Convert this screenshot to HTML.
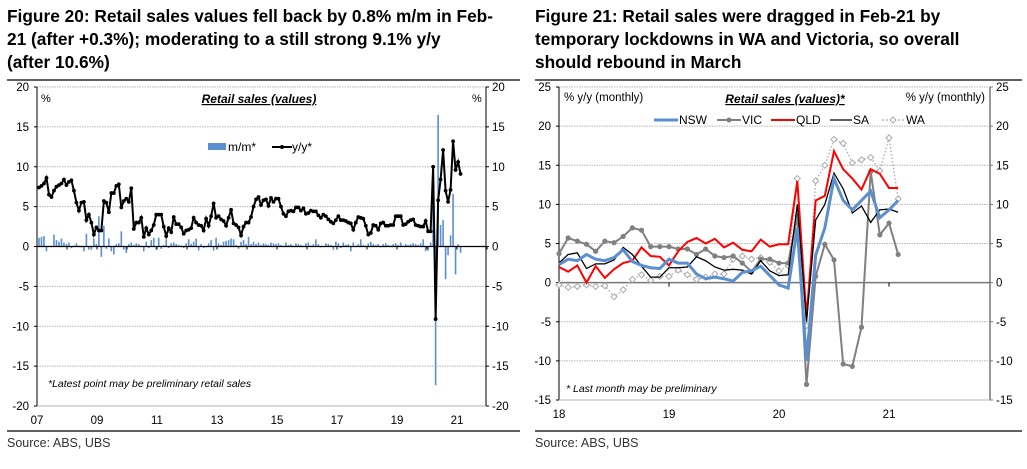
<!DOCTYPE html>
<html><head><meta charset="utf-8"><style>
body{margin:0;background:#fff;}
svg{display:block;font-family:"Liberation Sans Narrow","Liberation Sans",sans-serif;}
.t{font-family:"Liberation Sans",sans-serif;font-weight:bold;font-size:17.3px;fill:#000;}
</style></head><body>
<svg id="s" width="1027" height="469" viewBox="0 0 1027 469">
<g>
<text class="t" x="7" y="22">Figure 20: Retail sales values fell back by 0.8% m/m in Feb-</text>
<text class="t" x="7" y="45">21 (after +0.3%); moderating to a still strong 9.1% y/y</text>
<text class="t" x="7" y="68">(after 10.6%)</text>
</g>
<g>
<text class="t" x="535" y="22">Figure 21: Retail sales were dragged in Feb-21 by</text>
<text class="t" x="535" y="45">temporary lockdowns in WA and Victoria, so overall</text>
<text class="t" x="535" y="68">should rebound in March</text>
</g>
<line x1="7" y1="80" x2="520" y2="80" stroke="#000" stroke-width="1.2"/>
<line x1="535" y1="80" x2="1022" y2="80" stroke="#000" stroke-width="1.2"/>
<line x1="7" y1="431" x2="520" y2="431" stroke="#000" stroke-width="1.2"/>
<line x1="535" y1="431" x2="1022" y2="431" stroke="#000" stroke-width="1.2"/>
<text x="7" y="447" font-size="12.5" fill="#333" font-family="Liberation Sans, sans-serif">Source: ABS, UBS</text>
<text x="535" y="447" font-size="12.5" fill="#333" font-family="Liberation Sans, sans-serif">Source: ABS, UBS</text>
<g id="L"></g>
<g id="R"></g>
</svg>
<script>
// ---- Left chart data (monthly from Jan 2007) ----
const leftYears = ["07","09","11","13","15","17","19","21"];
const leftTicks = [20,15,10,5,0,-5,-10,-15,-20];
const yoy = [
7.4,7.6,7.9,8.6,6.5,6.2,7.0,7.5,7.7,7.9,8.4,7.7,
8.1,8.3,7.0,5.5,4.5,5.5,5.6,3.3,4.0,3.0,1.5,2.4,
2.0,2.0,5.7,5.5,4.3,6.7,6.7,7.6,7.8,4.9,5.7,6.0,
5.6,7.3,2.2,3.0,3.0,3.6,1.2,2.3,1.5,2.0,2.7,4.0,
4.0,4.0,2.5,1.3,2.3,1.8,3.7,2.8,2.8,2.4,1.6,2.0,
2.1,2.3,3.6,3.0,2.7,2.6,2.0,3.5,2.6,3.8,5.4,3.6,
3.8,3.4,3.2,2.6,3.6,4.6,2.9,2.7,2.4,1.4,2.5,3.0,
3.0,3.7,5.0,5.9,6.2,5.2,5.8,5.9,5.1,6.1,5.6,6.0,
6.0,5.0,4.1,3.8,4.4,4.5,4.4,4.9,4.9,4.5,4.8,4.1,
4.2,4.5,4.4,4.4,3.9,3.6,4.0,3.8,3.4,3.1,2.9,3.3,
3.8,3.3,3.3,3.2,3.0,2.9,2.1,3.0,3.7,3.6,3.5,2.6,
1.5,1.7,2.7,2.6,2.1,2.9,3.0,2.6,2.6,2.7,2.7,3.8,
3.8,3.8,2.7,2.8,3.1,3.3,3.4,2.7,2.6,2.5,2.5,3.2,
1.9,1.9,10.0,-9.1,5.8,8.4,12.1,7.0,5.6,7.1,13.2,9.6,
10.6,9.1];
const mom = [
1.1,1.2,1.3,-0.6,0.0,0.1,1.5,0.8,0.6,1.0,0.5,0.3,
0.5,-0.2,0.1,0.4,0.1,-0.1,-0.6,1.6,-0.4,-0.4,1.0,0.3,
3.8,-1.3,2.6,-0.3,1.0,-0.6,-1.0,0.3,0.4,1.9,-0.4,-0.8,
0.3,0.5,0.2,0.4,0.3,0.1,-0.6,0.6,-0.2,0.8,1.1,-0.4,
1.1,-0.3,0.2,0.9,-0.2,0.4,0.5,0.3,0.2,0.1,-0.2,0.4,
0.9,0.3,0.6,1.0,-0.5,0.3,-0.2,-0.1,0.4,0.8,-0.5,1.1,
0.4,0.2,0.6,0.7,0.8,1.0,0.9,0.2,-0.3,0.6,0.8,0.3,
1.2,0.3,0.6,0.3,0.5,0.2,0.4,0.3,0.2,0.5,0.4,0.3,
0.4,0.2,0.1,0.5,0.2,0.3,0.1,0.4,0.3,0.2,0.0,0.4,
0.5,0.1,0.3,0.9,0.3,-0.1,0.0,0.4,0.3,0.2,-0.4,0.6,
0.4,-0.2,0.5,0.2,0.3,-0.6,0.5,0.1,0.3,0.9,0.2,0.1,
0.4,0.6,0.3,0.2,0.3,-0.1,0.3,0.4,0.2,0.1,0.3,0.4,
0.2,0.5,0.1,0.3,0.2,0.3,0.4,0.3,0.2,0.4,0.9,-0.6,
-0.5,0.5,8.2,-17.4,16.5,2.7,3.3,-4.1,-1.1,1.4,6.6,-3.5,
0.3,-0.8];
// ---- Right chart data (monthly from Jan 2018) ----
const rightYears = ["18","19","20","21"];
const rightTicks = [25,20,15,10,5,0,-5,-10,-15];
const nsw = [2.3,3.0,2.8,3.6,3.0,2.8,3.2,4.2,2.7,2.2,1.9,1.8,3.0,2.5,2.5,1.1,0.5,0.7,0.5,0.2,1.3,1.5,2.1,0.9,-0.3,-0.7,7.0,-10.0,3.5,7.0,13.3,10.5,9.3,10.5,11.7,8.3,9.3,10.5];
const vic = [3.7,5.7,5.3,4.9,4.0,5.3,5.1,5.9,7.0,6.7,4.6,4.6,4.6,4.3,4.3,3.6,4.3,3.4,3.2,3.4,2.5,1.4,3.0,3.0,2.5,2.5,8.5,-13.0,0.8,4.9,2.9,-10.4,-10.7,-5.7,14.2,6.1,7.6,3.6];
const qld = [2.0,1.4,2.2,0.0,2.1,0.6,1.7,2.5,2.8,4.5,3.4,3.3,2.2,4.0,5.2,5.7,5.0,5.6,4.5,5.1,4.2,4.0,5.5,4.6,4.9,4.9,13.0,-4.5,10.5,11.1,16.8,14.5,13.3,11.9,14.5,13.9,12.1,12.1];
const sa  = [2.5,3.6,3.8,1.8,2.4,2.4,2.9,4.5,3.6,2.1,0.7,0.7,1.9,1.9,2.0,3.3,2.8,2.0,1.6,1.7,1.6,1.1,2.8,1.5,0.9,1.0,10.0,-5.0,8.0,10.0,14.0,12.0,8.9,9.8,7.7,9.3,9.4,9.0];
const wa  = [-0.3,-0.6,-0.5,-0.3,-0.5,-0.4,-1.8,-0.9,0.4,1.0,0.3,0.8,0.8,1.6,1.0,0.4,0.7,1.1,1.1,3.0,3.4,3.0,3.2,2.6,1.5,2.2,13.3,-5.5,13.0,15.0,18.3,17.8,15.3,15.7,16.0,14.3,18.5,10.7];

const NS="http://www.w3.org/2000/svg";
function mk(parent,tag,attrs,text){const e=document.createElementNS(NS,tag);for(const k in attrs)e.setAttribute(k,attrs[k]);if(text!==undefined)e.textContent=text;parent.appendChild(e);return e;}

// ===== Left chart =====
(function(){
const g=document.getElementById('L');
const x0=37,x1=486,yTop=87,yBot=406;
const ly=v=>yTop+(20-v)*(yBot-yTop)/40;
const lx=i=>x0+2+i*(x1-x0)/180;
leftTicks.forEach(t=>{
  if(t!==0){const gl=mk(g,'line',{x1:x0,x2:x1,y1:ly(t),y2:ly(t),stroke:'#b5b5b5','stroke-dasharray':'1.5,1'});
  
  }
  const a=mk(g,'text',{x:29,y:ly(t)+4,'font-size':11.5,'text-anchor':'end'},String(t));
  
  
  const b=mk(g,'text',{x:492,y:ly(t)+4,'font-size':11.5},String(t));
  
  
  mk(g,'line',{x1:x0-3,x2:x0,y1:ly(t),y2:ly(t),stroke:'#000'});
  mk(g,'line',{x1:x1,x2:x1+3,y1:ly(t),y2:ly(t),stroke:'#000'});
});
mk(g,'line',{x1:x0,x2:x0,y1:yTop,y2:yBot,stroke:'#000'});
mk(g,'line',{x1:x1,x2:x1,y1:yTop,y2:yBot,stroke:'#000'});
mk(g,'line',{x1:x0,x2:x1,y1:yBot,y2:yBot,stroke:'#b5b5b5'});
leftYears.forEach((y,k)=>{
  const t=mk(g,'text',{x:x0+k*60,y:424,'font-size':11.5,'text-anchor':'middle'},y);
  
  
});
mom.forEach((v,i)=>{
  const r=mk(g,'rect',{x:lx(i)-0.8,width:1.6,y:Math.min(ly(v),ly(0)),height:Math.abs(ly(v)-ly(0)),fill:'#5b8fd0'});
  
  
});
mk(g,'line',{x1:x0,x2:x1,y1:ly(0),y2:ly(0),stroke:'#000','stroke-width':1.2});
for(let k=0;k<16;k++){mk(g,'line',{x1:x0+k*30,x2:x0+k*30,y1:ly(0),y2:ly(0)+3,stroke:'#000'});}
const pl=mk(g,'polyline',{points:yoy.map((v,i)=>lx(i)+','+ly(v)).join(' '),fill:'none',stroke:'#000','stroke-width':2});


yoy.forEach((v,i)=>{mk(g,'circle',{cx:lx(i),cy:ly(v),r:1.9,fill:'#000'});});
const tl=mk(g,'text',{x:259,y:103,'font-size':12,'font-weight':'bold','font-style':'italic','text-anchor':'middle','text-decoration':'underline'},'Retail sales (values)');


mk(g,'text',{x:41,y:102,'font-size':11},'%');
mk(g,'text',{x:472,y:102,'font-size':11},'%');
const lg=mk(g,'g',{});


mk(lg,'rect',{x:208,y:143,width:18,height:7,fill:'#5b8fd0'});
mk(lg,'text',{x:228,y:151,'font-size':12},'m/m*');
mk(lg,'line',{x1:272,x2:292,y1:147,y2:147,stroke:'#000','stroke-width':2});
mk(lg,'circle',{cx:282,cy:147,r:2,fill:'#000'});
mk(lg,'text',{x:292,y:151,'font-size':12},'y/y*');
const n=mk(g,'text',{x:48,y:387,'font-size':10.5,'font-style':'italic'},'*Latest point may be preliminary retail sales');


})();

// ===== Right chart =====
(function(){
const g=document.getElementById('R');
const x0=559,x1=990,yTop=87,yBot=400;
const ry=v=>yTop+(25-v)*(yBot-yTop)/40;
const rx=i=>x0+i*110/12;
rightTicks.forEach(t=>{
  if(t!==0){const gl=mk(g,'line',{x1:x0,x2:x1,y1:ry(t),y2:ry(t),stroke:'#b5b5b5','stroke-dasharray':'1.5,1'});
  
  }
  const a=mk(g,'text',{x:551,y:ry(t)+4,'font-size':11.5,'text-anchor':'end'},String(t));
  
  
  const b=mk(g,'text',{x:996,y:ry(t)+4,'font-size':11.5},String(t));
  
  
  mk(g,'line',{x1:x0-3,x2:x0,y1:ry(t),y2:ry(t),stroke:'#000'});
  mk(g,'line',{x1:x1,x2:x1+3,y1:ry(t),y2:ry(t),stroke:'#777'});
});
mk(g,'line',{x1:x0,x2:x0,y1:yTop,y2:yBot,stroke:'#000'});
mk(g,'line',{x1:x1,x2:x1,y1:yTop,y2:yBot,stroke:'#777','stroke-width':1.5});
mk(g,'line',{x1:x0,x2:x1,y1:yBot,y2:yBot,stroke:'#b5b5b5'});
mk(g,'line',{x1:x0,x2:x1,y1:ry(0),y2:ry(0),stroke:'#777','stroke-width':1.5});
rightYears.forEach((y,k)=>{
  mk(g,'line',{x1:x0+k*110,x2:x0+k*110,y1:ry(0),y2:ry(0)+4,stroke:'#000'});
  const t=mk(g,'text',{x:x0+k*110,y:418,'font-size':11.5,'text-anchor':'middle'},y);
  
  
});
const pts=a=>a.map((v,i)=>rx(i)+','+ry(v)).join(' ');
const w=mk(g,'polyline',{points:pts(wa),fill:'none',stroke:'#aaa','stroke-width':1.3,'stroke-dasharray':'1.5,2'});


wa.forEach((v,i)=>{const x=rx(i),y=ry(v);mk(g,'path',{d:`M${x} ${y-3}L${x+3} ${y}L${x} ${y+3}L${x-3} ${y}Z`,fill:'#fff',stroke:'#aaa','stroke-width':1});});
const v1=mk(g,'polyline',{points:pts(vic),fill:'none',stroke:'#808080','stroke-width':2});


vic.forEach((v,i)=>{mk(g,'circle',{cx:rx(i),cy:ry(v),r:2.6,fill:'#808080'});});
const q=mk(g,'polyline',{points:pts(qld),fill:'none',stroke:'#f00','stroke-width':2});


const s=mk(g,'polyline',{points:pts(sa),fill:'none',stroke:'#000','stroke-width':1.3});


const nl=mk(g,'polyline',{points:pts(nsw),fill:'none',stroke:'#5b8fd0','stroke-width':3});


const tl=mk(g,'text',{x:785,y:103,'font-size':12,'font-weight':'bold','font-style':'italic','text-anchor':'middle','text-decoration':'underline'},'Retail sales (values)*');


mk(g,'text',{x:564,y:101,'font-size':11.5},'% y/y (monthly)');
mk(g,'text',{x:985,y:101,'font-size':11.5,'text-anchor':'end'},'% y/y (monthly)');
const lg=mk(g,'g',{});


mk(lg,'line',{x1:654,x2:678,y1:120,y2:120,stroke:'#5b8fd0','stroke-width':3});
mk(lg,'text',{x:679,y:124,'font-size':12},'NSW');
mk(lg,'line',{x1:717,x2:741,y1:120,y2:120,stroke:'#808080','stroke-width':2});
mk(lg,'circle',{cx:729,cy:120,r:2.5,fill:'#808080'});
mk(lg,'text',{x:742,y:124,'font-size':12},'VIC');
mk(lg,'line',{x1:771,x2:795,y1:120,y2:120,stroke:'#f00','stroke-width':2});
mk(lg,'text',{x:796,y:124,'font-size':12},'QLD');
mk(lg,'line',{x1:830,x2:852,y1:120,y2:120,stroke:'#000','stroke-width':1.3});
mk(lg,'text',{x:853,y:124,'font-size':12},'SA');
mk(lg,'line',{x1:882,x2:904,y1:120,y2:120,stroke:'#aaa','stroke-width':1.3,'stroke-dasharray':'2,2'});
mk(lg,'path',{d:'M893 117L896 120L893 123L890 120Z',fill:'#fff',stroke:'#aaa'});
mk(lg,'text',{x:906,y:124,'font-size':12},'WA');
const n=mk(g,'text',{x:566,y:392,'font-size':10.5,'font-style':'italic'},'* Last month may be preliminary');


})();
</script>
</body></html>
